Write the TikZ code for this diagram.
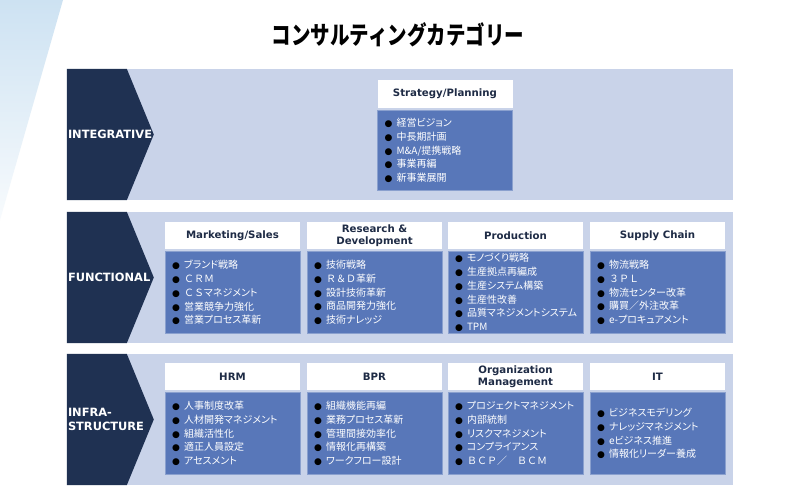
\documentclass[tikz,border=0pt]{standalone}
\usepackage{fontspec}
\setmainfont{DejaVu Sans}
\newfontfamily\jpfont[RawFeature=+palt]{Noto Sans CJK JP}
\newfontfamily\jpfw{Noto Sans CJK JP}
\newfontfamily\titlefont[FakeStretch=0.78]{Noto Sans CJK JP}
\newfontfamily\hdrfont{DejaVu Sans}
\newfontfamily\bulfont{DejaVu Sans}
\usetikzlibrary{positioning, calc}

\definecolor{navy}{HTML}{1F3152}
\definecolor{bandblue}{HTML}{C9D3E9}
\definecolor{bodyblue}{HTML}{5877B9}
\definecolor{wedgeblue}{HTML}{CDE2F2}
\definecolor{hdrtext}{HTML}{1E2B45}

\newcommand\bul{\makebox[17pt][l]{\hspace*{5pt}{\bulfont\fontsize{9}{9}\selectfont\textcolor{black}{●}}}}

\begin{document}
\begin{tikzpicture}[x=1pt, y=-1pt,
  band/.style={fill=bandblue, minimum width=666pt, minimum height=131pt, inner sep=0pt},
  chev/.style={fill=navy},
  rowlabel/.style={text=white, font=\hdrfont\bfseries\fontsize{11.4}{14}\selectfont,
    align=left, inner sep=0pt, anchor=west},
  cathead/.style={fill=white, text=hdrtext, minimum width=135pt, minimum height=27pt,
    inner sep=0pt, align=center, font=\hdrfont\bfseries\fontsize{10.2}{11.5}\selectfont},
  catbody/.style={fill=bodyblue, draw=bodyblue!70!white, line width=0.6pt, text=white,
    text width=131pt, minimum height=82pt, inner xsep=2pt, inner ysep=0pt, align=left,
    font=\jpfont\fontsize{10}{13.8}\selectfont}]
  \useasboundingbox (0,0) rectangle (800,500);
  \fill[white] (0,0) rectangle (800,500);
  \shade[top color=wedgeblue, bottom color=wedgeblue!15] (0,0) -- (63,0) -- (0,220) -- cycle;

  \node[font=\titlefont\bfseries\fontsize{25}{25}\selectfont] (title) at (398,35) {コンサルティングカテゴリー};

  % bands and chevrons
  \node[band] (band-int) at (400,134.5) {};
  \node[band] (band-fun) at (400,277.5) {};
  \node[band] (band-inf) at (400,419.5) {};
  \foreach \b in {band-int, band-fun, band-inf}
    \fill[chev] (\b.north west) -- ++(60,0) -- ($(\b.west)+(87,0)$)
      -- ($(\b.south west)+(60,0)$) -- (\b.south west) -- cycle;
  \node[rowlabel] (lbl-int) at ($(band-int.west)+(1,0)$) {INTEGRATIVE};
  \node[rowlabel] (lbl-fun) at ($(band-fun.west)+(1,0)$) {FUNCTIONAL};
  \node[rowlabel] (lbl-inf) at ($(band-inf.west)+(1,0)$) {INFRA-\\STRUCTURE};

  % integrative
  \node[cathead, minimum height=28pt] (hd-strat) at (445,94) {Strategy/Planning};
  \node[catbody, minimum height=80pt, below=2pt of hd-strat] (bd-strat)
    {\bul 経営ビジョン\\\bul 中長期計画\\\bul M\&A/提携戦略\\\bul 事業再編\\\bul 新事業展開};

  % functional
  \node[cathead] (hd-mkt) at (232.5,235.5) {Marketing/Sales};
  \node[cathead] (hd-rd) at (374.5,235.5) {Research \&\\Development};
  \node[cathead] (hd-prod) at (515.5,235.5) {Production};
  \node[cathead] (hd-sc) at (657.5,235.5) {Supply Chain};
  \node[catbody, below=2pt of hd-mkt] (bd-mkt)
    {\bul ブランド戦略\\\bul {\jpfw ＣＲＭ}\\\bul {\jpfw ＣＳ}マネジメント\\\bul 営業競争力強化\\\bul 営業プロセス革新};
  \node[catbody, below=2pt of hd-rd] (bd-rd)
    {\bul 技術戦略\\\bul {\jpfw Ｒ＆Ｄ}革新\\\bul 設計技術革新\\\bul 商品開発力強化\\\bul 技術ナレッジ};
  \node[catbody, below=2pt of hd-prod] (bd-prod)
    {\bul モノづくり戦略\\\bul 生産拠点再編成\\\bul 生産システム構築\\\bul 生産性改善\\\bul 品質マネジメントシステム\\\bul TPM};
  \node[catbody, below=2pt of hd-sc] (bd-sc)
    {\bul 物流戦略\\\bul {\jpfw ３ＰＬ}\\\bul 物流センター改革\\\bul 購買{\jpfw ／}外注改革\\\bul e-プロキュアメント};

  % infrastructure
  \node[cathead] (hd-hrm) at (232.5,376.5) {HRM};
  \node[cathead] (hd-bpr) at (374.5,376.5) {BPR};
  \node[cathead] (hd-org) at (515.5,376.5) {Organization\\Management};
  \node[cathead] (hd-it) at (657.5,376.5) {IT};
  \node[catbody, below=2pt of hd-hrm] (bd-hrm)
    {\bul 人事制度改革\\\bul 人材開発マネジメント\\\bul 組織活性化\\\bul 適正人員設定\\\bul アセスメント};
  \node[catbody, below=2pt of hd-bpr] (bd-bpr)
    {\bul 組織機能再編\\\bul 業務プロセス革新\\\bul 管理間接効率化\\\bul 情報化再構築\\\bul ワークフロー設計};
  \node[catbody, below=2pt of hd-org] (bd-org)
    {\bul プロジェクトマネジメント\\\bul 内部統制\\\bul リスクマネジメント\\\bul コンプライアンス\\\bul {\jpfw ＢＣＰ／　ＢＣＭ}};
  \node[catbody, below=2pt of hd-it] (bd-it)
    {\bul ビジネスモデリング\\\bul ナレッジマネジメント\\\bul eビジネス推進\\\bul 情報化リーダー養成};
\end{tikzpicture}
\end{document}
